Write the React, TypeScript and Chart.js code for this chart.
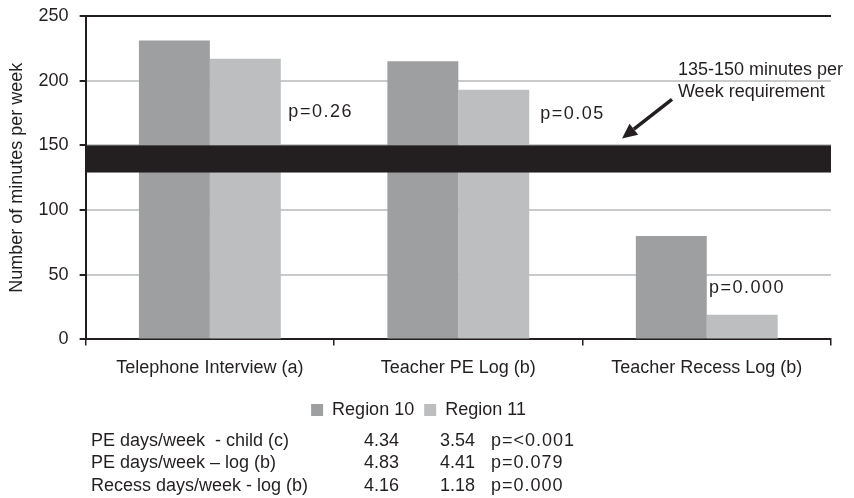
import React, { useEffect, useRef } from "react";
import { Chart, registerables } from "chart.js";

Chart.register(...registerables);

// ---------- data ----------
const categories = ["Telephone Interview (a)", "Teacher PE Log (b)", "Teacher Recess Log (b)"];
const seriesNames = ["Region 10", "Region 11"];
const region10 = [231, 215, 80];
const region11 = [217, 193, 19];
const yTickValues = [0, 50, 100, 150, 200, 250];
const requirementBand = [129, 150];
const pValueLabels = ["p=0.26", "p=0.05", "p=0.000"];
const requirementText = ["135-150 minutes per", "Week requirement"];
const tableLabels = ["PE days/week  - child (c)", "PE days/week \u2013 log (b)", "Recess days/week - log (b)"];
const tableRegion10 = ["4.34", "4.83", "4.16"];
const tableRegion11 = ["3.54", "4.41", "1.18"];
const tableP = ["p=<0.001", "p=0.079", "p=0.000"];

// ---------- styling / layout ----------
const FONT = "'Liberation Sans', Arial, Helvetica, sans-serif";
const DARK = "#231f20";
const GRID = "#c9cacb";
const COLORS = ["#9e9fa1", "#bdbec0"];
// annotation anchors in (category coordinate, value) space
const P_POS: [number, number][] = [
  [0.316, 176],
  [1.33, 174],
  [2.009, 40],
];
const REQ_POS: [number, number][] = [
  [1.884, 208],
  [1.884, 191],
];
const ARROW_FROM: [number, number] = [1.86, 185.6];
const ARROW_TO: [number, number] = [1.659, 155.3];
const TABLE_COLS = [91, 364, 440, 491];
const TABLE_ROWS = [441, 463, 486];

const overlayPlugin = {
  id: "overlay",
  afterDatasetsDraw(chart: any) {
    const { ctx, chartArea, scales } = chart;
    const x = scales.x;
    const y = scales.y;
    ctx.save();
    // requirement band
    const yTop = y.getPixelForValue(requirementBand[1]);
    const yBot = y.getPixelForValue(requirementBand[0]);
    ctx.fillStyle = DARK;
    ctx.fillRect(chartArea.left, yTop, chartArea.right - chartArea.left, yBot - yTop);

    // p-value labels
    ctx.font = `18px ${FONT}`;
    ctx.fillStyle = DARK;
    ctx.textBaseline = "middle";
    ctx.textAlign = "left";
    (ctx as any).letterSpacing = "1.5px";
    pValueLabels.forEach((t, i) => {
      const [cx, v] = P_POS[i];
      ctx.fillText(t, x.getPixelForValue(cx), y.getPixelForValue(v));
    });
    (ctx as any).letterSpacing = "0px";
    requirementText.forEach((t, i) => {
      const [cx, v] = REQ_POS[i];
      ctx.fillText(t, x.getPixelForValue(cx), y.getPixelForValue(v));
    });

    // arrow
    const x1 = x.getPixelForValue(ARROW_FROM[0]);
    const y1 = y.getPixelForValue(ARROW_FROM[1]);
    const x2 = x.getPixelForValue(ARROW_TO[0]);
    const y2 = y.getPixelForValue(ARROW_TO[1]);
    const ang = Math.atan2(y2 - y1, x2 - x1);
    const headLen = 15;
    const headW = 7;
    const bx = x2 - headLen * Math.cos(ang);
    const by = y2 - headLen * Math.sin(ang);
    ctx.strokeStyle = DARK;
    ctx.lineWidth = 3.5;
    ctx.beginPath();
    ctx.moveTo(x1, y1);
    ctx.lineTo(bx, by);
    ctx.stroke();
    ctx.beginPath();
    ctx.moveTo(x2, y2);
    ctx.lineTo(bx + headW * Math.sin(ang), by - headW * Math.cos(ang));
    ctx.lineTo(bx - headW * Math.sin(ang), by + headW * Math.cos(ang));
    ctx.closePath();
    ctx.fill();
    ctx.restore();
  },
  afterDraw(chart: any) {
    const { ctx } = chart;
    ctx.save();
    ctx.font = `18px ${FONT}`;
    ctx.fillStyle = DARK;
    ctx.textBaseline = "middle";
    ctx.textAlign = "left";
    tableLabels.forEach((label, r) => {
      const yy = TABLE_ROWS[r];
      (ctx as any).letterSpacing = "0px";
      ctx.fillText(label, TABLE_COLS[0], yy);
      ctx.fillText(tableRegion10[r], TABLE_COLS[1], yy);
      ctx.fillText(tableRegion11[r], TABLE_COLS[2], yy);
      (ctx as any).letterSpacing = "1px";
      ctx.fillText(tableP[r], TABLE_COLS[3], yy);
    });
    ctx.restore();
  },
};

export default function App() {
  const ref = useRef<HTMLCanvasElement | null>(null);
  useEffect(() => {
    if (!ref.current) return;
    const chart = new Chart(ref.current, {
      type: "bar",
      data: {
        labels: categories,
        datasets: [
          { label: seriesNames[0], data: region10, backgroundColor: COLORS[0], categoryPercentage: 0.571, barPercentage: 1 },
          { label: seriesNames[1], data: region11, backgroundColor: COLORS[1], categoryPercentage: 0.571, barPercentage: 1 },
        ],
      },
      options: {
        responsive: false,
        animation: false,
        devicePixelRatio: 1,
        layout: { padding: { left: 6, right: 23, top: 0, bottom: 69 } },
        plugins: {
          legend: {
            position: "bottom",
            labels: {
              font: { family: FONT, size: 18 },
              color: DARK,
              boxWidth: 12,
              boxHeight: 12,
              padding: 10,
            },
          },
          tooltip: { enabled: false },
          title: { display: false },
        },
        scales: {
          x: {
            grid: {
              offset: true,
              drawOnChartArea: false,
              tickLength: 6,
              tickColor: DARK,
              lineWidth: 1.5,
            },
            border: { color: DARK, width: 2 },
            ticks: { font: { family: FONT, size: 18 }, color: DARK, padding: 12 },
          },
          y: {
            min: 0,
            max: 250,
            afterBuildTicks: (scale: any) => {
              scale.ticks = yTickValues.map((v) => ({ value: v }));
            },
            afterFit: (scale: any) => {
              scale.paddingTop = 16;
            },
            grid: {
              color: (c: any) => (c.tick && c.tick.value === 250 ? DARK : GRID),
              lineWidth: 2,
              tickColor: DARK,
              tickLength: 6,
            },
            border: { color: DARK, width: 2 },
            ticks: { font: { family: FONT, size: 18 }, color: DARK, padding: 11 },
            title: {
              display: true,
              text: "Number of minutes per week",
              font: { family: FONT, size: 18 },
              color: DARK,
              padding: { top: 0, bottom: 0 },
            },
          },
        },
      },
      plugins: [overlayPlugin],
    });
    return () => chart.destroy();
  }, []);
  return (
    <div style={{ position: "absolute", left: 0, top: 0, width: 854, height: 498, background: "#fff" }}>
      <canvas ref={ref} width={854} height={498} />
    </div>
  );
}
